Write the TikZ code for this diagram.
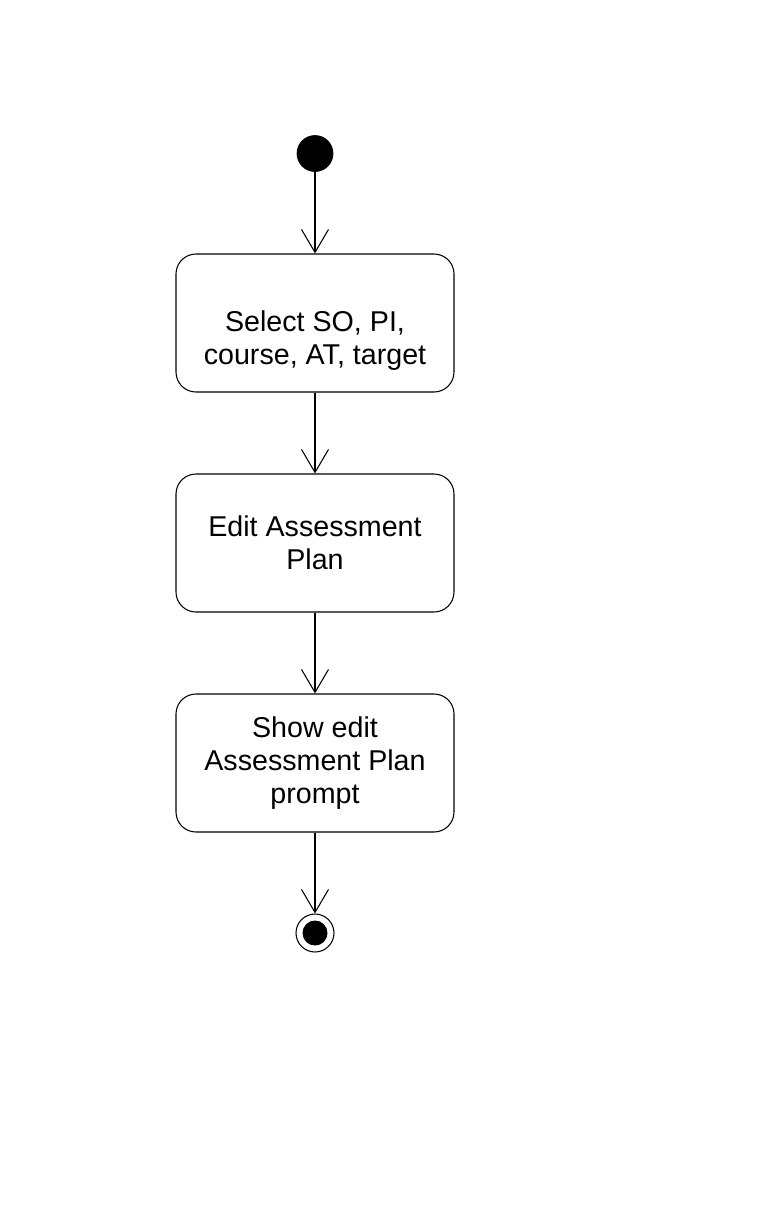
\documentclass[tikz,border=0pt]{standalone}
\usepackage{fontspec}
\setmainfont{Liberation Sans}
\usetikzlibrary{shapes.geometric, arrows.meta}
\tikzstyle{initial} = [circle, fill=black, draw=black, minimum size=0.72cm, inner sep=0pt]
\tikzstyle{final} = [circle, draw=black, line width=0.6pt, minimum size=0.76cm, inner sep=0pt, path picture={\fill[black] (path picture bounding box.center) circle (0.25cm);}]
\tikzstyle{activity} = [rectangle, rounded corners=0.4cm, minimum width=5.56cm, minimum height=2.76cm, text centered, align=center, draw=black, line width=0.6pt, font=\fontsize{16.3}{18.7}\selectfont]
\tikzstyle{arrow} = [line width=0.6pt,-{Straight Barb[length=0.46cm, width=0.54cm, line width=0.6pt]}]

\begin{document}
\begin{tikzpicture}[node distance=4.4cm]
\useasboundingbox (0,0) rectangle (15.2,-24.64);

\node (start) [initial] at (6.3,-3.07) {};
\node (select) [activity, node distance=3.39cm, below of=start] {\strut\\Select SO, PI,\\course, AT, target};
\node (edit) [activity, below of=select] {Edit Assessment\\Plan};
\node (prompt) [activity, below of=edit] {Show edit\\Assessment Plan\\prompt};
\node (finish) [final, node distance=3.4cm, below of=prompt] {};

\draw [arrow] (start) -- (select);
\draw [arrow] (select) -- (edit);
\draw [arrow] (edit) -- (prompt);
\draw [arrow] (prompt) -- (finish);

\end{tikzpicture}
\end{document}
